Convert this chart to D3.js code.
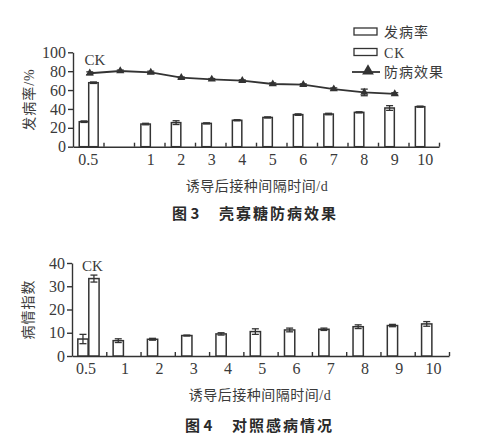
<!DOCTYPE html>
<html>
<head>
<meta charset="utf-8">
<script src="https://cdn.jsdelivr.net/npm/d3@7"></script>
<style>
body{margin:0;background:#fff}
text{font-family:"Liberation Serif","Noto Sans CJK SC",serif;fill:#3a3a3a}
.cap{font-family:"Noto Sans CJK SC",sans-serif;font-weight:bold;fill:#2a2a2a}
</style>
</head>
<body>
<svg id="fig" width="486" height="440"></svg>
<script>
// interval between induction and inoculation (d), shared by both figures
var days = ["0.5","1","2","3","4","5","6","7","8","9","10"];

// fig 3 : incidence (%) and control effect (%)
var rate      = [26.5, 24.0, 25.5, 24.7, 28.0, 31.0, 34.0, 34.6, 36.4, 41.0, 42.4];
var rateErr   = [0.8, 0.8, 2.0, 0.6, 0.6, 0.6, 0.8, 0.8, 0.6, 2.5, 0.6];
var ckRate    = 67.8, ckRateErr = 0.8;
var effect    = [77.8, 80.2, 78.8, 73.1, 71.4, 70.0, 66.4, 65.8, 61.1, 57.5, 56.0];
var effectErr = [1.5, 1.0, 1.2, 0.8, 0.8, 0.8, 1.2, 0.8, 1.2, 3.5, 1.2];
var rateTicks = [0, 20, 40, 60, 80, 100];

// fig 4 : disease index of the control
var index      = [7.3, 6.6, 7.2, 8.8, 9.5, 10.5, 11.2, 11.5, 12.6, 13.1, 13.8];
var indexErr   = [2.0, 0.8, 0.4, 0.2, 0.5, 1.2, 0.8, 0.5, 0.8, 0.5, 1.0];
var ckIndex    = 33.3, ckIndexErr = 1.5;
var indexTicks = [0, 10, 20, 30, 40];

var svg = d3.select("#fig");
var ink = "#333";

//vertical error bar with caps
function errBar(g, x, y0, y1, cap) {
	g.append("line").attr("x1", x).attr("x2", x).attr("y1", y0).attr("y2", y1);
	g.append("line").attr("x1", x - cap).attr("x2", x + cap).attr("y1", y0).attr("y2", y0);
	g.append("line").attr("x1", x - cap).attr("x2", x + cap).attr("y1", y1).attr("y2", y1);
}

function panel(o) {
	var x = d3.scaleLinear().domain([0, o.slots]).range(o.xr);
	var y = d3.scaleLinear().domain([0, o.ymax]).range(o.yr);
	var g = svg.append("g");

	//y axis
	var ya = g.append("g").attr("transform", "translate(" + o.xr[0] + ",0)")
		.call(d3.axisLeft(y).tickValues(o.ticks).tickSize(5).tickSizeOuter(0).tickPadding(2));
	//x axis, small inward ticks, labels drawn apart
	var xa = g.append("g").attr("transform", "translate(0," + o.yr[0] + ")")
		.call(d3.axisBottom(x).tickValues(d3.range(1, o.slots + 1)).tickSize(-4).tickSizeOuter(0).tickFormat(""));
	[ya, xa].forEach(function(a) {
		a.selectAll("path,line").attr("stroke", ink).attr("stroke-width", 1.4);
		a.selectAll("text").style("font-size", "16px").attr("fill", "#3a3a3a");
	});

	var bw = x(o.bw) - x(0);
	var bars = g.append("g").attr("fill", "#fff").attr("stroke", ink).attr("stroke-width", 1.5);
	var eb = g.append("g").attr("stroke", ink).attr("stroke-width", 1.3);

	function bar(cx, v, e) {
		bars.append("rect").attr("x", cx - bw / 2).attr("y", y(v))
			.attr("width", bw).attr("height", y(0) - y(v));
		errBar(eb, cx, y(v + e), y(v - e), 3.5);
	}

	o.vals.forEach(function(v, i) {
		bar(x(o.barSlot(i)), v, o.errs[i]);
	});
	bar(x(o.ckSlot), o.ck, o.ckErr);

	//CK label over the control bar
	g.append("text").attr("x", x(o.ckSlot) + o.ckDx).attr("y", y(o.ymax) + o.ckDy)
		.style("font-size", "15px").text("CK");

	//day labels
	g.append("g").selectAll("text").data(days).join("text")
		.attr("x", function(d, i) { return x(o.labSlot(i)); })
		.attr("y", o.yr[0] + 18)
		.attr("text-anchor", "middle")
		.style("font-size", "16px")
		.text(function(d) { return d; });

	//axis titles
	g.append("text").attr("transform", "translate(" + o.yTitleX + "," + ((o.yr[0] + o.yr[1]) / 2) + ") rotate(-90)")
		.attr("text-anchor", "middle").attr("dy", "0.35em")
		.style("font-size", "14px").style("letter-spacing", "1px").text(o.yTitle);
	g.append("text").attr("x", o.xTitleX).attr("y", o.yr[0] + 44)
		.attr("text-anchor", "middle").style("font-size", "14px").style("letter-spacing", "0.5px")
		.text("诱导后接种间隔时间/d");

	//caption
	g.append("text").attr("class", "cap").attr("x", o.capX).attr("y", o.capY)
		.style("font-size", "15px").text(o.capNo);
	g.append("text").attr("class", "cap").attr("x", o.capX + 47).attr("y", o.capY)
		.style("font-size", "15px").style("letter-spacing", "2px").text(o.capText);

	return {g: g, x: x, y: y};
}

// fig 3
var p3 = panel({
	slots: 12, xr: [73, 439], ymax: 100, yr: [146.7, 52.3], ticks: rateTicks,
	vals: rate, errs: rateErr, ck: ckRate, ckErr: ckRateErr,
	bw: 0.31,
	barSlot: function(i) { return i == 0 ? 0.36 : i + 1.38; },
	ckSlot: 0.67, ckDx: -9, ckDy: 13,
	labSlot: function(i) { return i == 0 ? 0.5 : i + 1.55; },
	yTitle: "发病率/%", yTitleX: 29, xTitleX: 257,
	capX: 172, capY: 219, capNo: "图 3", capText: "壳寡糖防病效果"
});

//control effect line
var lx = function(d, i) { return p3.x(i + 0.55); };
var ly = function(d) { return p3.y(d); };
p3.g.append("path").datum(effect)
	.attr("fill", "none").attr("stroke", ink).attr("stroke-width", 1.8)
	.attr("d", d3.line().x(lx).y(ly));
var le = p3.g.append("g").attr("stroke", ink).attr("stroke-width", 1.3);
effect.forEach(function(d, i) {
	errBar(le, lx(d, i), p3.y(d + effectErr[i]), p3.y(d - effectErr[i]), 3.5);
});
p3.g.append("g").selectAll("path").data(effect).join("path")
	.attr("transform", function(d, i) { return "translate(" + lx(d, i) + "," + ly(d) + ")"; })
	.attr("d", d3.symbol(d3.symbolTriangle, 28))
	.attr("fill", ink);

//legend
var leg = p3.g.append("g");
leg.append("rect").attr("x", 354).attr("y", 28).attr("width", 23).attr("height", 7)
	.attr("fill", "#fff").attr("stroke", ink).attr("stroke-width", 1.3);
leg.append("rect").attr("x", 354).attr("y", 48.5).attr("width", 23).attr("height", 7)
	.attr("fill", "#fff").attr("stroke", ink).attr("stroke-width", 1.3);
leg.append("line").attr("x1", 352).attr("x2", 380).attr("y1", 72).attr("y2", 72)
	.attr("stroke", ink).attr("stroke-width", 1.8);
leg.append("path").attr("transform", "translate(368,71)")
	.attr("d", d3.symbol(d3.symbolTriangle, 60)).attr("fill", ink);
[["发病率", 37], ["CK", 57.5], ["防病效果", 77]].forEach(function(t) {
	leg.append("text").attr("x", 384).attr("y", t[1])
		.style("font-size", "14px").style("letter-spacing", "1px").text(t[0]);
});

// fig 4
panel({
	slots: 11, xr: [72, 449], ymax: 40, yr: [356, 263], ticks: indexTicks,
	vals: index, errs: indexErr, ck: ckIndex, ckErr: ckIndexErr,
	bw: 0.3,
	barSlot: function(i) { return i == 0 ? 0.32 : i + 0.35; },
	ckSlot: 0.64, ckDx: -12, ckDy: 8,
	labSlot: function(i) { return i == 0 ? 0.41 : i + 0.55; },
	yTitle: "病情指数", yTitleX: 28, xTitleX: 260,
	capX: 185, capY: 431, capNo: "图 4", capText: "对照感病情况"
});
</script>
</body>
</html>
